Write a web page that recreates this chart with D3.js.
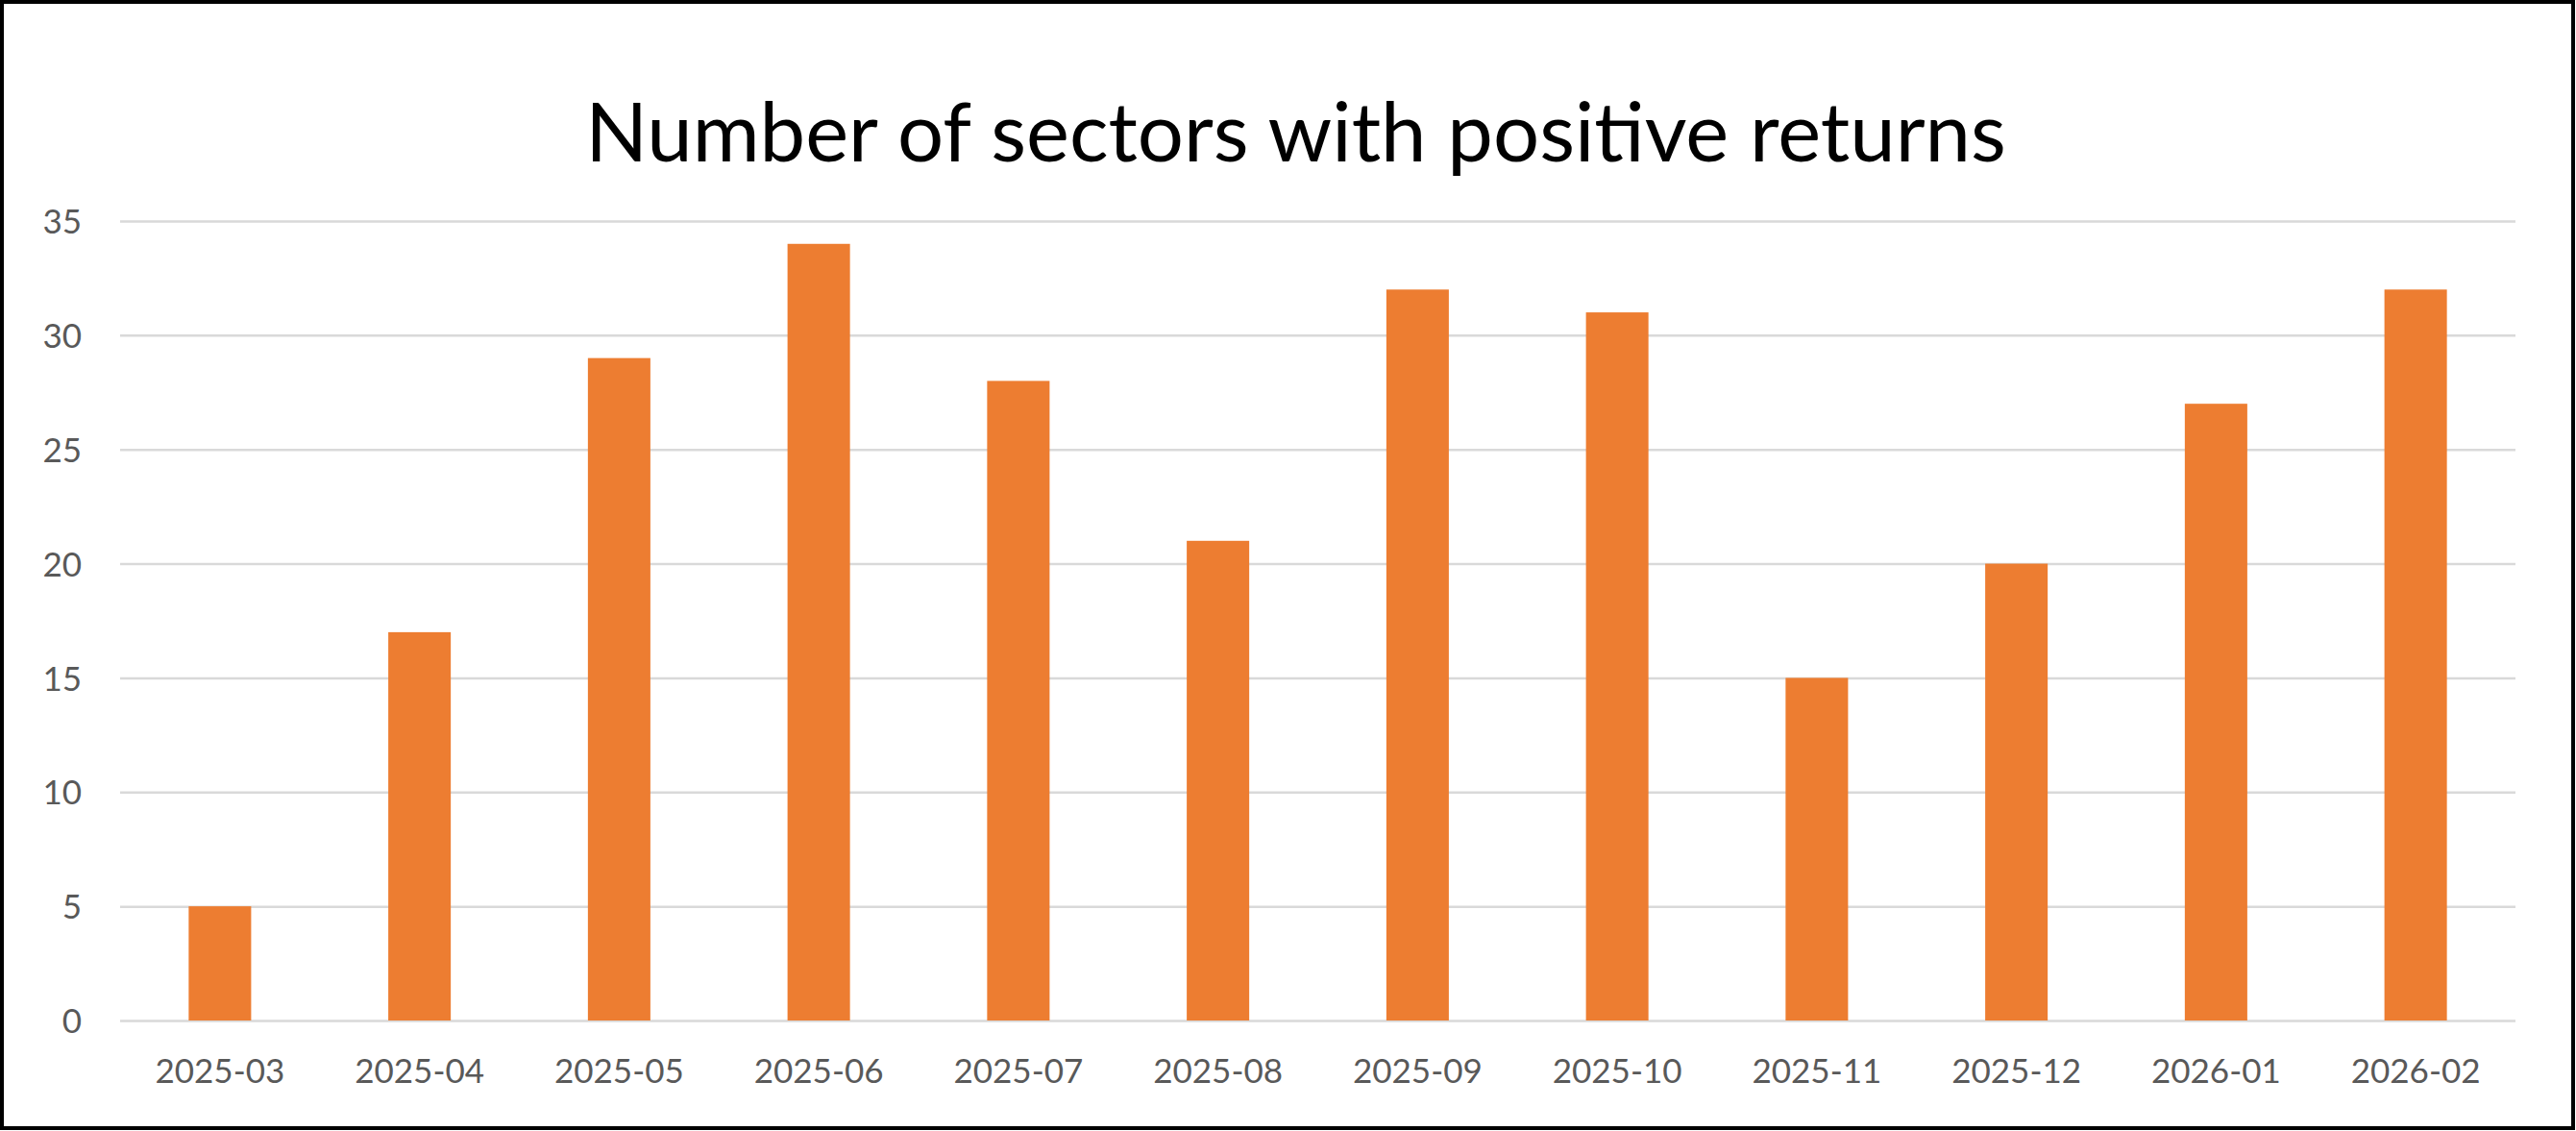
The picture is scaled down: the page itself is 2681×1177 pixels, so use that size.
<!DOCTYPE html>
<html>
<head>
<meta charset="utf-8">
<script src="https://cdn.jsdelivr.net/npm/d3@7"></script>
<style>
  html, body { margin: 0; padding: 0; background: #fff; overflow: hidden; }
  svg { display: block; }
  text { font-family: Lato, "Open Sans", sans-serif; }
  .tick text { fill: #595959; font-size: 35px; }
  .grid line { stroke: #d9d9d9; stroke-width: 2.5; }
</style>
</head>
<body>
<svg width="2681" height="1177"></svg>
<script>
const months = ['2025-03', '2025-04', '2025-05', '2025-06', '2025-07', '2025-08',
  '2025-09', '2025-10', '2025-11', '2025-12', '2026-01', '2026-02']
const sectors = [5, 17, 29, 34, 28, 21, 32, 31, 15, 20, 27, 32]
const yTicks = [0, 5, 10, 15, 20, 25, 30, 35]
const title = 'Number of sectors with positive returns'

const svg = d3.select('svg')
const width = +svg.attr('width')
const height = +svg.attr('height')
const margin = { top: 230, right: 63, bottom: 115, left: 125 }
const innerWidth = width - margin.left - margin.right
const innerHeight = height - margin.top - margin.bottom

// outer frame
svg.append('rect')
  .attr('x', 2).attr('y', 2)
  .attr('width', width - 5).attr('height', height - 5)
  .attr('fill', '#fff')
  .attr('stroke', '#000')
  .attr('stroke-width', 4)

const g = svg.append('g')
  .attr('transform', `translate(${margin.left}, ${margin.top})`)

const xScale = d3.scaleBand()
  .domain(months)
  .range([0, innerWidth])
  .paddingInner(0.687)
  .paddingOuter(0.3435)

const yScale = d3.scaleLinear()
  .domain([0, 35])
  .range([innerHeight, 0])

const yAxis = d3.axisLeft(yScale)
  .tickValues(yTicks)
  .tickSize(-innerWidth)
  .tickPadding(40)

const yAxisGroup = g.append('g').attr('class', 'grid').call(yAxis)
yAxisGroup.select('.domain').remove()
yAxisGroup.selectAll('.tick text').attr('dy', '0.36em')

g.selectAll('rect.bar').data(sectors)
  .enter().append('rect')
  .attr('class', 'bar')
  .attr('x', (d, i) => xScale(months[i]))
  .attr('y', d => yScale(d))
  .attr('width', xScale.bandwidth())
  .attr('height', d => innerHeight - yScale(d))
  .attr('fill', '#ed7d31')

const xAxis = d3.axisBottom(xScale)
  .tickSize(0)
  .tickPadding(40)

const xAxisGroup = g.append('g').call(xAxis)
  .attr('transform', `translate(0, ${innerHeight})`)
xAxisGroup.select('.domain').remove()

svg.append('text')
  .attr('x', width / 2 + 8)
  .attr('y', 168)
  .attr('text-anchor', 'middle')
  .attr('font-size', 85)
  .attr('fill', '#000')
  .text(title)
</script>
</body>
</html>
